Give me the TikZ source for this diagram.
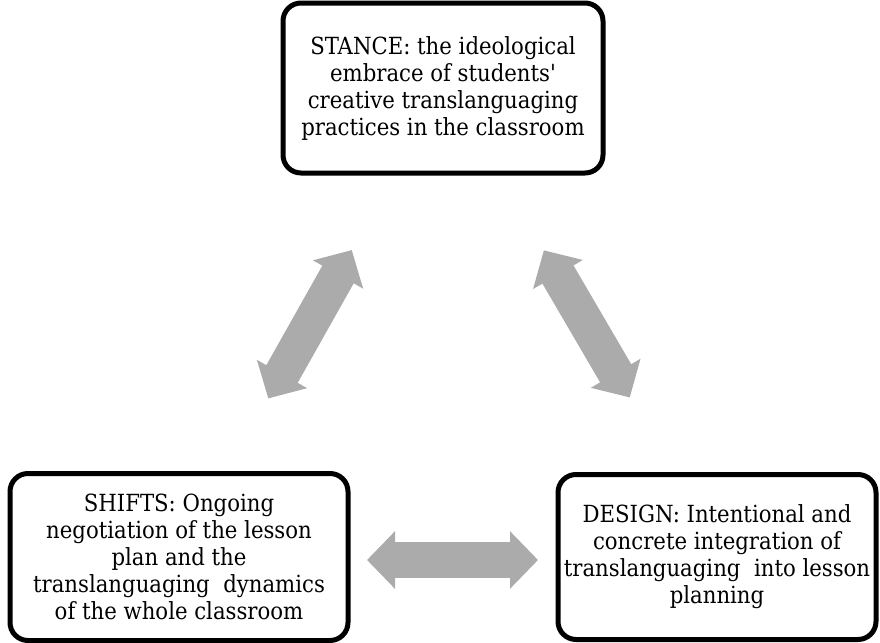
\documentclass[tikz,border=0pt]{standalone}
\usepackage{fontspec}
\setmainfont{DejaVu Serif Condensed}
\usetikzlibrary{arrows.meta,calc}
\definecolor{arrowgray}{HTML}{ABABAB}

\begin{document}
\begin{tikzpicture}[x=0.5pt,y=-0.5pt]
	\tikzset{>={Triangle[length=14pt,width=28pt]}}
	\tikzset{box/.style={draw,line width=2.5pt,rounded corners=9pt,align=center,inner sep=0pt,
			font=\fontsize{11.8pt}{13.5pt}\selectfont}}
	\tikzset{link/.style={<->,draw=arrowgray,line width=18pt}}
	\useasboundingbox (0,0) rectangle (880,643);
	\node[box,minimum width=160pt,minimum height=85pt] (stance) at (443,88)
		{STANCE: the ideological\\embrace of students\textquotesingle\\creative translanguaging\\practices in the classroom};
	\node[box,minimum width=169pt,minimum height=83.5pt] (shifts) at (179,557)
		{SHIFTS: Ongoing\\negotiation of the lesson\\plan and the\\translanguaging\ \ dynamics\\of the whole classroom};
	\node[box,minimum width=159pt,minimum height=82.5pt] (design) at (717,557)
		{DESIGN: Intentional and\\concrete integration of\\translanguaging\ \ into lesson\\planning};
	\draw[link,shorten <=93pt,shorten >=91pt] (stance.center) -- (shifts.center);
	\draw[link,shorten <=94pt,shorten >=92.4pt] ($(stance.center)+(6,0)$) -- ($(design.center)+(6,0)$);
	\draw[link,shorten <=94pt,shorten >=89.5pt] ($(shifts.center)+(0,3)$) -- ($(design.center)+(0,3)$);
\end{tikzpicture}
\end{document}
